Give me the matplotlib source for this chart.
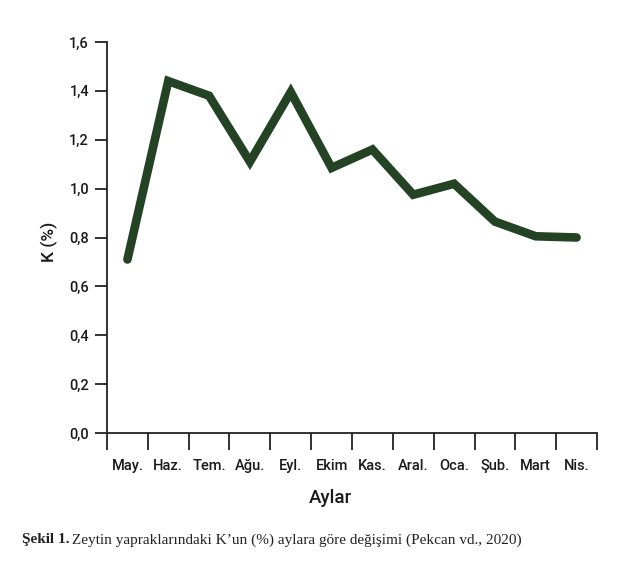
import numpy as np
import matplotlib
matplotlib.use('Agg')
import matplotlib.pyplot as plt

# veriler
months = ['May.', 'Haz.', 'Tem.', 'Ağu.', 'Eyl.', 'Ekim', 'Kas.', 'Aral.', 'Oca.', 'Şub.', 'Mart', 'Nis.']
k_values = [0.71, 1.44, 1.38, 1.11, 1.395, 1.085, 1.16, 0.975, 1.02, 0.865, 0.805, 0.80]
y_ticks = [0.0, 0.2, 0.4, 0.6, 0.8, 1.0, 1.2, 1.4, 1.6]

plt.rcParams['font.family'] = ['Roboto', 'DejaVu Sans']

fig = plt.figure(figsize=(6.31, 5.68), dpi=100)
ax = fig.add_axes([107/631, 1 - 433/568, 490/631, 391/568])

x = np.arange(len(months))
ax.plot(x, k_values, color='#244224', linewidth=6.2, solid_joinstyle='miter', solid_capstyle='round')

ax.set_xlim(-0.5, len(months) - 0.5)
ax.set_ylim(0, 1.6)

# grote ticks op de randen, labels in het midden
ax.set_xticks(np.arange(-0.5, len(months), 1.0))
ax.set_xticklabels([])
ax.set_xticks(x, minor=True)
ax.set_xticklabels(months, minor=True, fontsize=10.5, fontweight='medium', color='#1a1a1a')
ax.tick_params(axis='x', which='major', direction='out', length=12, width=1.3, color='#222222')
ax.tick_params(axis='x', which='minor', length=0, pad=19)

ax.set_yticks(y_ticks)
ax.set_yticklabels([f'{v:.1f}'.replace('.', ',') for v in y_ticks], fontsize=10.5,
                   fontweight='medium', color='#1a1a1a')
ax.tick_params(axis='y', direction='out', length=9, width=1.3, color='#222222', pad=4)

for s in ['top', 'right']:
    ax.spines[s].set_visible(False)
for s in ['left', 'bottom']:
    ax.spines[s].set_linewidth(1.3)
    ax.spines[s].set_color('#222222')

ax.set_xlabel('Aylar', fontsize=13.5, fontweight='medium', color='#1a1a1a')
ax.xaxis.set_label_coords((330 - 107) / 490, -(489 - 433) / 391)
ax.set_ylabel('K (%)', fontsize=12.5, fontweight='medium', color='#1a1a1a')
ax.yaxis.set_label_coords(-(107 - 58) / 490, (433 - 242) / 391)

# onderschrift
t1 = fig.text(22/631, 1 - 540/568, 'Şekil 1.', fontsize=11, fontweight='bold',
              family='Liberation Serif', va='center', color='#222222')
fig.canvas.draw()
bb = t1.get_window_extent(renderer=fig.canvas.get_renderer())
fig.text(bb.x1 / fig.bbox.width + 3/631, 1 - 540/568,
         'Zeytin yapraklarındaki K\u2019un (%) aylara göre değişimi (Pekcan vd., 2020)',
         fontsize=11, family='Liberation Serif', va='center', color='#222222')

fig.savefig('out.png', dpi=100)
